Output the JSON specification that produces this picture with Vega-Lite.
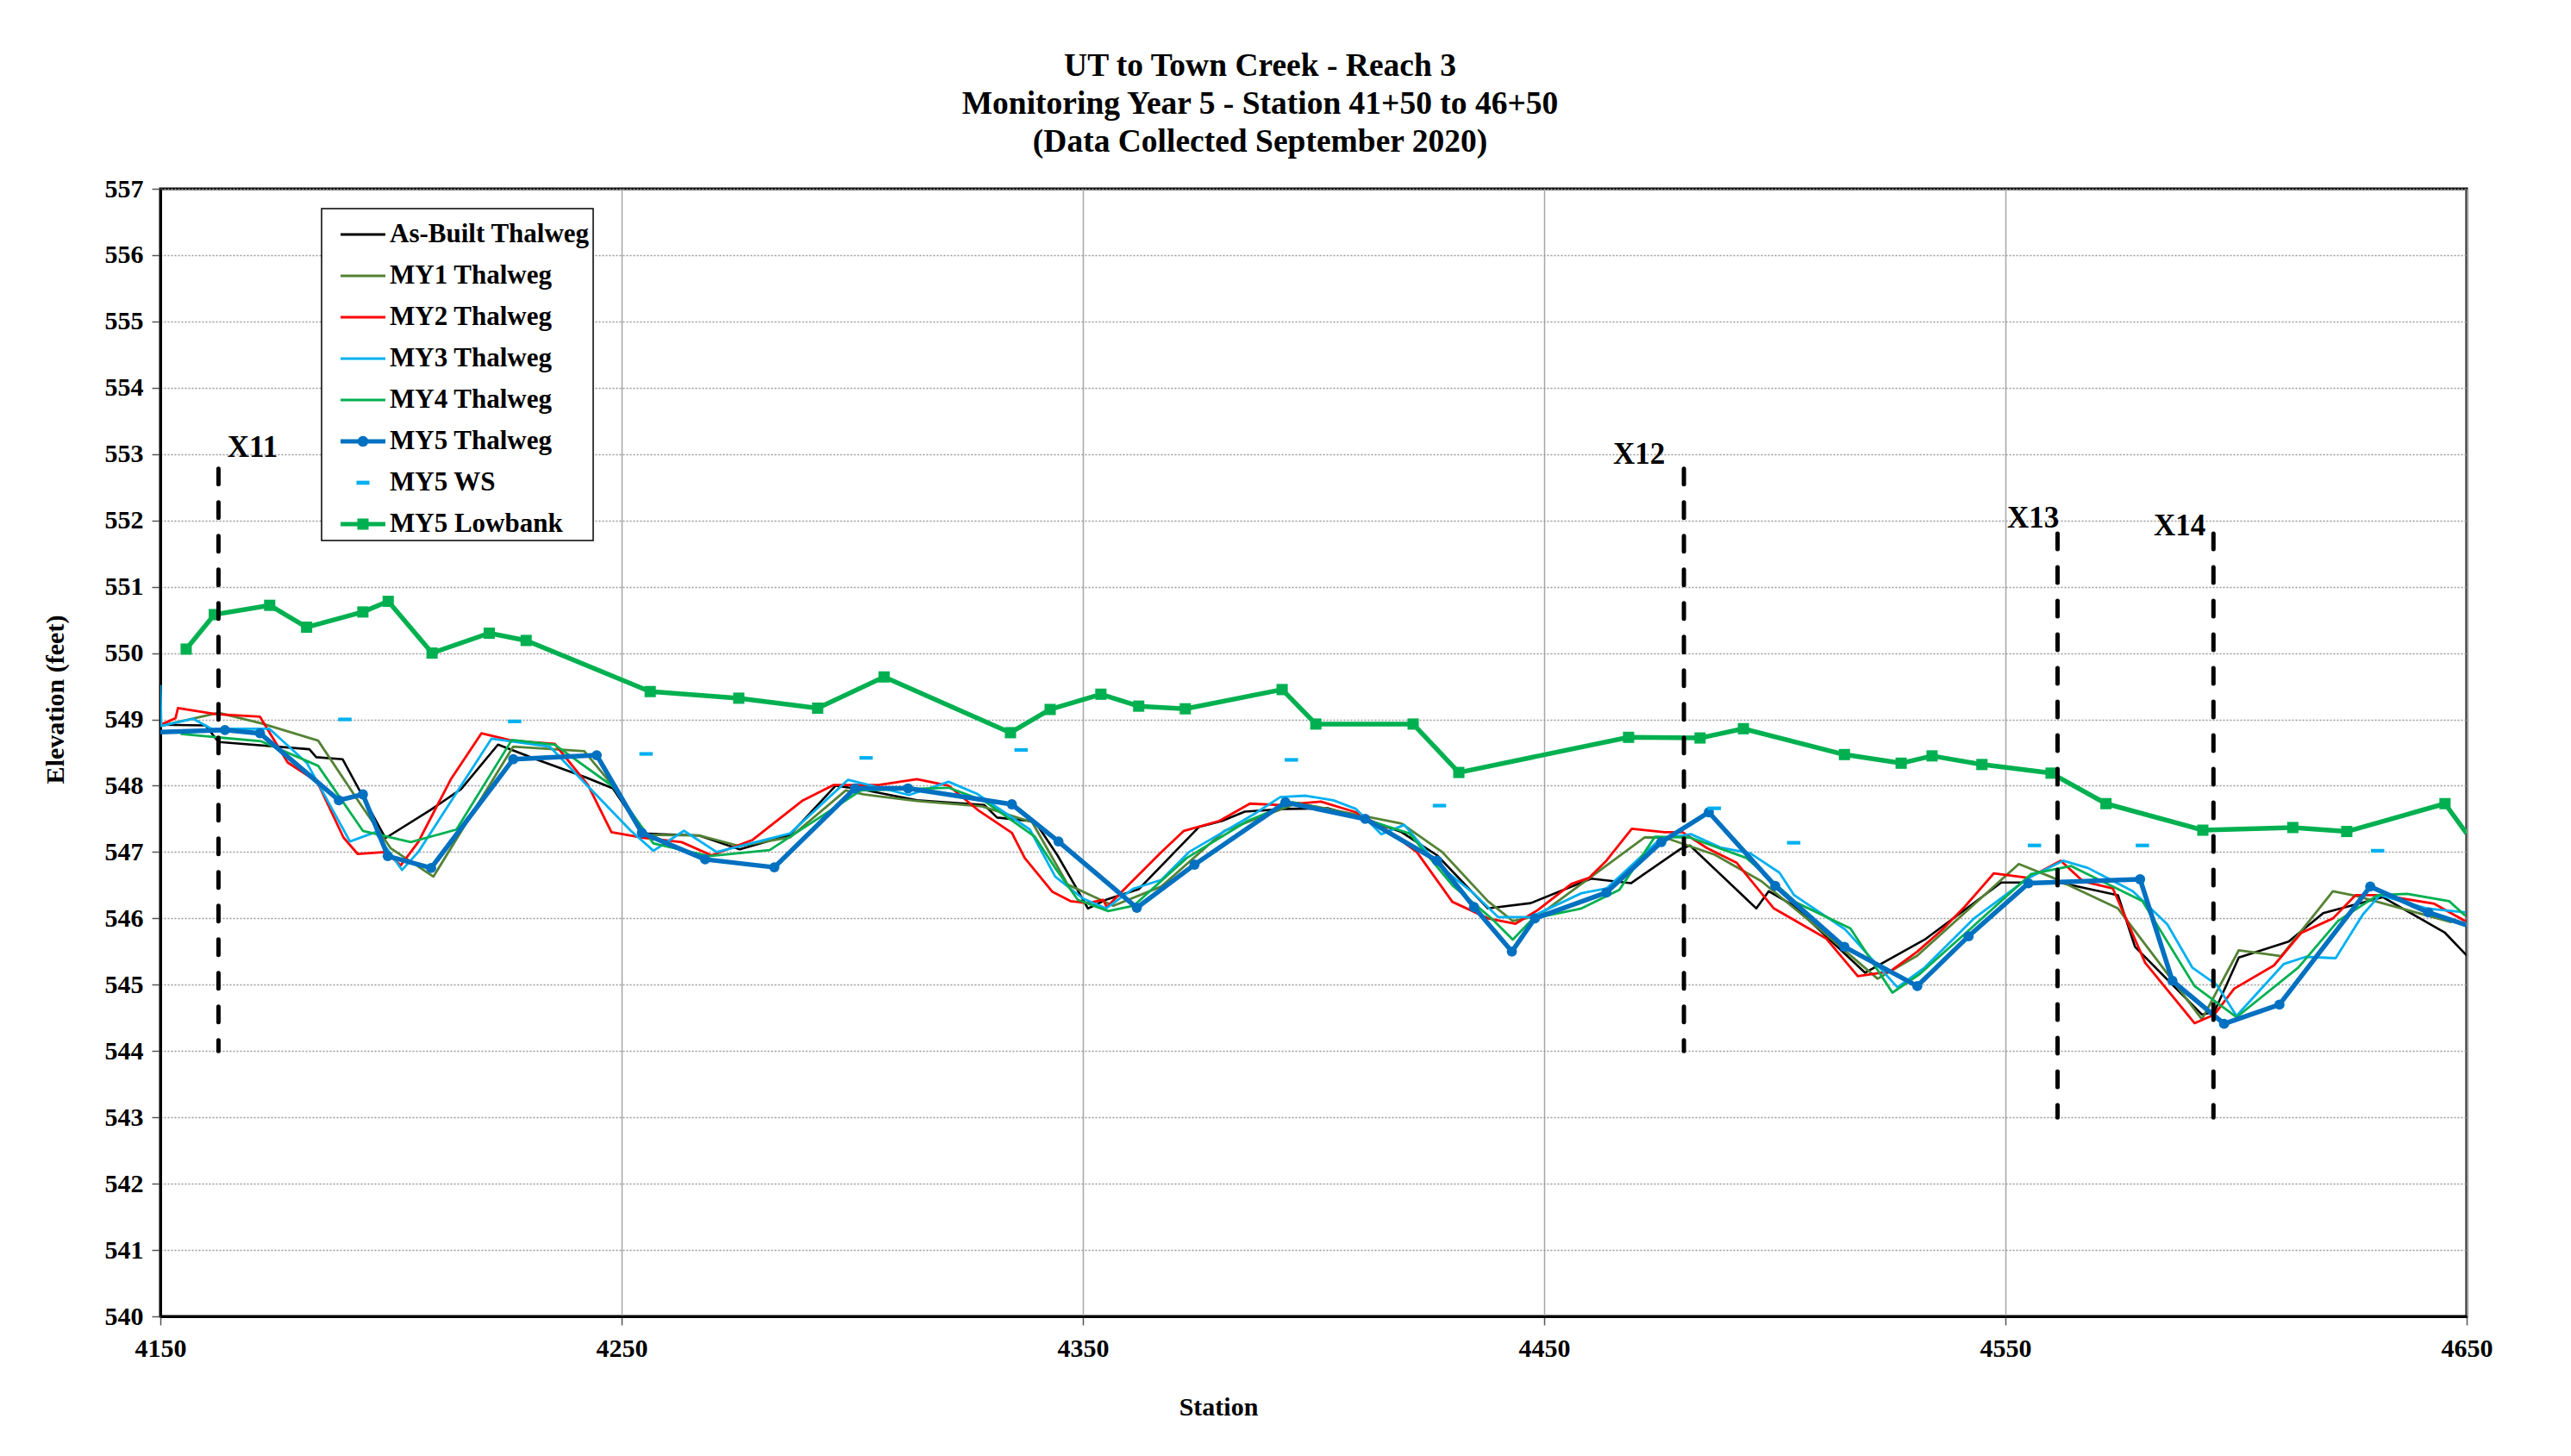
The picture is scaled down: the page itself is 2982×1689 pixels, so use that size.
{
  "$schema": "https://vega.github.io/schema/vega-lite/v6.json",
  "width": 2675,
  "height": 1308,
  "autosize": {"type": "none"},
  "padding": {"left": 186, "top": 219, "right": 121, "bottom": 162},
  "background": "white",
  "title": {
    "text": ["UT to Town Creek - Reach 3", "Monitoring Year 5 - Station 41+50 to 46+50", "(Data Collected September 2020)"],
    "font": "Liberation Serif", "fontSize": 37.5, "fontWeight": "bold", "lineHeight": 44,
    "anchor": "middle", "frame": "group", "dx": -62, "offset": -17, "baseline": "bottom", "color": "black"
  },
  "config": {
    "font": "Liberation Serif",
    "view": {"stroke": "black", "strokeWidth": 3},
    "axis": {
      "labelFont": "Liberation Serif", "labelFontSize": 30, "labelFontWeight": "bold", "labelColor": "black",
      "titleFont": "Liberation Serif", "titleFontSize": 30, "titleFontWeight": "bold", "titleColor": "black",
      "domainColor": "black", "domainWidth": 3, "tickColor": "#555555", "tickWidth": 1.5, "tickSize": 10,
      "labelFlush": false, "labelOverlap": false
    },
    "legend": {
      "orient": "none", "legendX": 187, "legendY": 23, "direction": "vertical",
      "strokeColor": "black", "strokeWidth": 1.5, "fillColor": "white", "padding": 4,
      "symbolOffset": 18, "labelOffset": 5, "labelFont": "Liberation Serif", "labelFontSize": 31,
      "labelFontWeight": "bold", "labelColor": "black", "rowPadding": 7, "symbolSize": 2704,
      "symbolStrokeWidth": 0, "symbolOpacity": 1, "labelLimit": 0
    }
  },
  "encoding": {
    "x": {
      "field": "station", "type": "quantitative",
      "scale": {"domain": [4150, 4650], "nice": false, "zero": false},
      "axis": {
        "title": "Station", "values": [4150, 4250, 4350, 4450, 4550, 4650], "format": "d",
        "grid": true, "gridColor": "#A6A6A6", "gridWidth": 1.5, "labelPadding": 12,
        "titleX": 1227, "titleY": 105, "titleBaseline": "middle", "titleAlign": "center"
      }
    },
    "y": {
      "field": "elev", "type": "quantitative",
      "scale": {"domain": [540, 557], "nice": false, "zero": false},
      "axis": {
        "title": "Elevation (feet)",
        "values": [540, 541, 542, 543, 544, 545, 546, 547, 548, 549, 550, 551, 552, 553, 554, 555, 556, 557],
        "format": "d", "grid": true, "gridColor": "#9A9A9A", "gridWidth": 1.3, "gridDash": [2, 2],
        "labelPadding": 10, "titleX": -122, "titleY": 592, "titleBaseline": "middle",
        "titleAlign": "center", "titleAngle": 270
      }
    }
  },
  "datasets": {
    "asbuilt": [
      {"station": 4150, "elev": 548.92}, {"station": 4159.8, "elev": 548.91}, {"station": 4162.6, "elev": 548.66},
      {"station": 4182.3, "elev": 548.55}, {"station": 4183.8, "elev": 548.43}, {"station": 4189.5, "elev": 548.4},
      {"station": 4198.8, "elev": 547.21}, {"station": 4208.7, "elev": 547.64}, {"station": 4215.2, "elev": 547.95},
      {"station": 4223.2, "elev": 548.62}, {"station": 4232.2, "elev": 548.38}, {"station": 4242.1, "elev": 548.13},
      {"station": 4248.1, "elev": 547.96}, {"station": 4254.7, "elev": 547.28}, {"station": 4266.8, "elev": 547.25},
      {"station": 4275.6, "elev": 547.04}, {"station": 4286.5, "elev": 547.26}, {"station": 4296.4, "elev": 548.0},
      {"station": 4302.4, "elev": 547.94}, {"station": 4314, "elev": 547.78}, {"station": 4328.6, "elev": 547.71},
      {"station": 4331.4, "elev": 547.52}, {"station": 4339.6, "elev": 547.46}, {"station": 4344.5, "elev": 546.95},
      {"station": 4348.4, "elev": 546.48}, {"station": 4351.1, "elev": 546.15}, {"station": 4355, "elev": 546.28},
      {"station": 4362.1, "elev": 546.44}, {"station": 4375.2, "elev": 547.38}, {"station": 4380.2, "elev": 547.47},
      {"station": 4385.1, "elev": 547.61}, {"station": 4393.9, "elev": 547.65}, {"station": 4403.2, "elev": 547.66},
      {"station": 4410.9, "elev": 547.51}, {"station": 4419.1, "elev": 547.3}, {"station": 4426.8, "elev": 546.95},
      {"station": 4437.8, "elev": 546.15}, {"station": 4447.1, "elev": 546.23}, {"station": 4460.2, "elev": 546.6},
      {"station": 4468.8, "elev": 546.53}, {"station": 4479.4, "elev": 547.04}, {"station": 4481.6, "elev": 547.1},
      {"station": 4496.0, "elev": 546.15}, {"station": 4498.7, "elev": 546.41}, {"station": 4504.1, "elev": 546.19},
      {"station": 4519.6, "elev": 545.18}, {"station": 4532.5, "elev": 545.68}, {"station": 4549.1, "elev": 546.54},
      {"station": 4561.7, "elev": 546.54}, {"station": 4574.4, "elev": 546.35}, {"station": 4578.1, "elev": 545.57},
      {"station": 4592.6, "elev": 544.55}, {"station": 4595.3, "elev": 544.59}, {"station": 4600.6, "elev": 545.41},
      {"station": 4611.4, "elev": 545.65}, {"station": 4618.9, "elev": 546.08}, {"station": 4631.8, "elev": 546.32},
      {"station": 4645.2, "elev": 545.79}, {"station": 4650, "elev": 545.44}
    ],
    "my1": [
      {"station": 4150, "elev": 548.9}, {"station": 4162.6, "elev": 549.1}, {"station": 4171.9, "elev": 548.94},
      {"station": 4184.2, "elev": 548.68}, {"station": 4193.3, "elev": 547.73}, {"station": 4199.9, "elev": 547.06},
      {"station": 4209.2, "elev": 546.63}, {"station": 4226.5, "elev": 548.59}, {"station": 4241.9, "elev": 548.52},
      {"station": 4248.7, "elev": 547.95}, {"station": 4255.3, "elev": 547.26}, {"station": 4266.8, "elev": 547.25},
      {"station": 4275.6, "elev": 547.09}, {"station": 4286.5, "elev": 547.22}, {"station": 4298.6, "elev": 547.93},
      {"station": 4302.4, "elev": 547.87}, {"station": 4314, "elev": 547.77}, {"station": 4328.1, "elev": 547.69},
      {"station": 4339.0, "elev": 547.45}, {"station": 4346.7, "elev": 546.51}, {"station": 4356.6, "elev": 546.19},
      {"station": 4367.0, "elev": 546.48}, {"station": 4380.7, "elev": 547.32}, {"station": 4396.6, "elev": 547.74},
      {"station": 4419.1, "elev": 547.43}, {"station": 4427.9, "elev": 547.0}, {"station": 4437.8, "elev": 546.26},
      {"station": 4443.2, "elev": 545.96}, {"station": 4448.7, "elev": 546.04}, {"station": 4471.8, "elev": 547.22},
      {"station": 4476.1, "elev": 547.22}, {"station": 4487, "elev": 546.96}, {"station": 4497.1, "elev": 546.56},
      {"station": 4511.1, "elev": 545.76}, {"station": 4522.3, "elev": 545.09}, {"station": 4530.9, "elev": 545.44},
      {"station": 4552.9, "elev": 546.82}, {"station": 4560.4, "elev": 546.61}, {"station": 4574.4, "elev": 546.15},
      {"station": 4592.6, "elev": 544.48}, {"station": 4600.6, "elev": 545.52}, {"station": 4609.8, "elev": 545.43},
      {"station": 4621.0, "elev": 546.41}, {"station": 4625.9, "elev": 546.34}, {"station": 4646.8, "elev": 545.94}
    ],
    "my2": [
      {"station": 4150, "elev": 548.92}, {"station": 4151.1, "elev": 548.95}, {"station": 4153.3, "elev": 549.02},
      {"station": 4153.8, "elev": 549.17}, {"station": 4162, "elev": 549.08}, {"station": 4171.6, "elev": 549.04},
      {"station": 4177.6, "elev": 548.35}, {"station": 4184, "elev": 548.06}, {"station": 4189.7, "elev": 547.22},
      {"station": 4192.8, "elev": 546.97}, {"station": 4198.8, "elev": 547.0}, {"station": 4202.1, "elev": 546.8},
      {"station": 4205.9, "elev": 547.15}, {"station": 4213.0, "elev": 548.1}, {"station": 4219.6, "elev": 548.79},
      {"station": 4226.2, "elev": 548.68}, {"station": 4235.5, "elev": 548.63}, {"station": 4242.7, "elev": 548.01},
      {"station": 4247.8, "elev": 547.3}, {"station": 4254.2, "elev": 547.22}, {"station": 4263.0, "elev": 547.15},
      {"station": 4269.5, "elev": 546.95}, {"station": 4278.3, "elev": 547.18}, {"station": 4289.3, "elev": 547.78},
      {"station": 4295.9, "elev": 548.01}, {"station": 4305.7, "elev": 548.01}, {"station": 4314, "elev": 548.1},
      {"station": 4320.9, "elev": 548.0}, {"station": 4327.5, "elev": 547.62}, {"station": 4334.6, "elev": 547.29},
      {"station": 4337.4, "elev": 546.91}, {"station": 4343.4, "elev": 546.4}, {"station": 4347.3, "elev": 546.26},
      {"station": 4351.1, "elev": 546.23}, {"station": 4354.4, "elev": 546.28}, {"station": 4355.2, "elev": 546.17},
      {"station": 4360.4, "elev": 546.54}, {"station": 4367.0, "elev": 547.0}, {"station": 4371.9, "elev": 547.32},
      {"station": 4379.6, "elev": 547.47}, {"station": 4386.2, "elev": 547.73}, {"station": 4392.8, "elev": 547.71},
      {"station": 4401.6, "elev": 547.76}, {"station": 4409.2, "elev": 547.6}, {"station": 4415.8, "elev": 547.34},
      {"station": 4422.4, "elev": 547.0}, {"station": 4430.1, "elev": 546.25}, {"station": 4437.8, "elev": 546.0},
      {"station": 4443.8, "elev": 545.92}, {"station": 4448.7, "elev": 546.13}, {"station": 4455.9, "elev": 546.52},
      {"station": 4459.7, "elev": 546.61}, {"station": 4463.5, "elev": 546.87}, {"station": 4469.0, "elev": 547.35},
      {"station": 4476.1, "elev": 547.3}, {"station": 4480.0, "elev": 547.3}, {"station": 4485.3, "elev": 547.06},
      {"station": 4491.7, "elev": 546.84}, {"station": 4499.8, "elev": 546.15}, {"station": 4511.1, "elev": 545.7},
      {"station": 4518.0, "elev": 545.13}, {"station": 4525.0, "elev": 545.2}, {"station": 4530.9, "elev": 545.5},
      {"station": 4536.3, "elev": 545.83}, {"station": 4541.1, "elev": 546.17}, {"station": 4547.5, "elev": 546.68},
      {"station": 4555.0, "elev": 546.61}, {"station": 4562.0, "elev": 546.87}, {"station": 4566.8, "elev": 546.56},
      {"station": 4573.3, "elev": 546.45}, {"station": 4580.3, "elev": 545.33}, {"station": 4591.0, "elev": 544.42},
      {"station": 4595.3, "elev": 544.55}, {"station": 4599.6, "elev": 544.94}, {"station": 4608.2, "elev": 545.29},
      {"station": 4614.1, "elev": 545.78}, {"station": 4621.0, "elev": 546.0}, {"station": 4625.9, "elev": 546.35},
      {"station": 4631.8, "elev": 546.35}, {"station": 4643.0, "elev": 546.22}, {"station": 4649.7, "elev": 545.96}
    ],
    "my3": [
      {"station": 4150, "elev": 549.52}, {"station": 4150.2, "elev": 548.9}, {"station": 4157.1, "elev": 549.01},
      {"station": 4161, "elev": 548.86}, {"station": 4173.6, "elev": 548.86}, {"station": 4181.8, "elev": 548.34},
      {"station": 4191.1, "elev": 547.16}, {"station": 4196.6, "elev": 547.3}, {"station": 4202.4, "elev": 546.73},
      {"station": 4205.9, "elev": 547.0}, {"station": 4221.8, "elev": 548.71}, {"station": 4234.4, "elev": 548.59},
      {"station": 4252, "elev": 547.32}, {"station": 4256.9, "elev": 547.02}, {"station": 4263.5, "elev": 547.32},
      {"station": 4270.6, "elev": 547.0}, {"station": 4286.5, "elev": 547.28}, {"station": 4299.1, "elev": 548.09},
      {"station": 4312.3, "elev": 547.86}, {"station": 4320.9, "elev": 548.06}, {"station": 4327, "elev": 547.88},
      {"station": 4338.5, "elev": 547.34}, {"station": 4344, "elev": 546.63}, {"station": 4350, "elev": 546.3},
      {"station": 4355, "elev": 546.15}, {"station": 4361, "elev": 546.45}, {"station": 4367, "elev": 546.58},
      {"station": 4373, "elev": 547.0}, {"station": 4387.3, "elev": 547.58}, {"station": 4392.8, "elev": 547.83},
      {"station": 4398.3, "elev": 547.85}, {"station": 4404.3, "elev": 547.78}, {"station": 4409.2, "elev": 547.65},
      {"station": 4414.7, "elev": 547.27}, {"station": 4419.7, "elev": 547.41}, {"station": 4426.8, "elev": 546.82},
      {"station": 4434.5, "elev": 546.39}, {"station": 4440, "elev": 546.02}, {"station": 4447.1, "elev": 546.02},
      {"station": 4458.1, "elev": 546.38}, {"station": 4463.5, "elev": 546.45}, {"station": 4475.2, "elev": 547.2},
      {"station": 4481.8, "elev": 547.27}, {"station": 4488.2, "elev": 547.07}, {"station": 4494.7, "elev": 546.98},
      {"station": 4501, "elev": 546.69}, {"station": 4504.2, "elev": 546.35}, {"station": 4515.3, "elev": 545.83},
      {"station": 4526.6, "elev": 544.96}, {"station": 4532.5, "elev": 545.26}, {"station": 4543.2, "elev": 546.0},
      {"station": 4555, "elev": 546.61}, {"station": 4562.5, "elev": 546.87}, {"station": 4567.9, "elev": 546.76},
      {"station": 4577.6, "elev": 546.41}, {"station": 4585.1, "elev": 545.91}, {"station": 4590.5, "elev": 545.26},
      {"station": 4595.8, "elev": 545.0}, {"station": 4600.1, "elev": 544.53}, {"station": 4610.3, "elev": 545.31},
      {"station": 4615.1, "elev": 545.42}, {"station": 4621.6, "elev": 545.4}, {"station": 4627.5, "elev": 546.06},
      {"station": 4631.2, "elev": 546.35}, {"station": 4641.4, "elev": 546.15}, {"station": 4649.7, "elev": 546.09}
    ],
    "my4": [
      {"station": 4154.4, "elev": 548.78}, {"station": 4171.9, "elev": 548.67}, {"station": 4184.2, "elev": 548.3},
      {"station": 4193.9, "elev": 547.32}, {"station": 4204.3, "elev": 547.15}, {"station": 4214.2, "elev": 547.34},
      {"station": 4226.2, "elev": 548.69}, {"station": 4235.5, "elev": 548.62}, {"station": 4248.1, "elev": 547.99},
      {"station": 4256.9, "elev": 547.13}, {"station": 4269, "elev": 546.94}, {"station": 4282.1, "elev": 547.03},
      {"station": 4301.9, "elev": 547.93}, {"station": 4320.9, "elev": 547.97}, {"station": 4328.6, "elev": 547.77},
      {"station": 4339.6, "elev": 547.23}, {"station": 4344, "elev": 546.76}, {"station": 4348.9, "elev": 546.28},
      {"station": 4355.5, "elev": 546.11}, {"station": 4361, "elev": 546.19}, {"station": 4372.5, "elev": 546.91},
      {"station": 4385.7, "elev": 547.47}, {"station": 4395.5, "elev": 547.75}, {"station": 4411.4, "elev": 547.49},
      {"station": 4420.8, "elev": 547.28}, {"station": 4430.1, "elev": 546.5}, {"station": 4438.9, "elev": 545.98},
      {"station": 4443.2, "elev": 545.68}, {"station": 4447.6, "elev": 546.0}, {"station": 4458.1, "elev": 546.15},
      {"station": 4466.3, "elev": 546.43}, {"station": 4474, "elev": 547.23}, {"station": 4481.6, "elev": 547.22},
      {"station": 4493.9, "elev": 546.91}, {"station": 4504.6, "elev": 546.24}, {"station": 4516.4, "elev": 545.85},
      {"station": 4525.5, "elev": 544.88}, {"station": 4531.4, "elev": 545.16}, {"station": 4541.1, "elev": 545.76},
      {"station": 4555.6, "elev": 546.67}, {"station": 4564.2, "elev": 546.79}, {"station": 4579.7, "elev": 546.26},
      {"station": 4591, "elev": 544.98}, {"station": 4600.1, "elev": 544.51}, {"station": 4613.5, "elev": 545.26},
      {"station": 4622.1, "elev": 545.96}, {"station": 4630.7, "elev": 546.35}, {"station": 4637.1, "elev": 546.37},
      {"station": 4646.2, "elev": 546.26}, {"station": 4649.7, "elev": 546.04}
    ],
    "my5": [
      {"station": 4150, "elev": 548.81}, {"station": 4164.0, "elev": 548.84}, {"station": 4171.6, "elev": 548.79},
      {"station": 4188.7, "elev": 547.78}, {"station": 4193.9, "elev": 547.87}, {"station": 4199.3, "elev": 546.94},
      {"station": 4208.7, "elev": 546.76}, {"station": 4226.5, "elev": 548.4}, {"station": 4244.6, "elev": 548.46},
      {"station": 4254.4, "elev": 547.29}, {"station": 4268.1, "elev": 546.89}, {"station": 4283.1, "elev": 546.77},
      {"station": 4300.6, "elev": 547.96}, {"station": 4312.1, "elev": 547.96}, {"station": 4334.6, "elev": 547.72},
      {"station": 4344.7, "elev": 547.16}, {"station": 4361.7, "elev": 546.16}, {"station": 4374.2, "elev": 546.81},
      {"station": 4393.9, "elev": 547.75}, {"station": 4411.2, "elev": 547.5}, {"station": 4426.8, "elev": 546.87},
      {"station": 4434.8, "elev": 546.17}, {"station": 4443.0, "elev": 545.5}, {"station": 4448.0, "elev": 546.0},
      {"station": 4463.5, "elev": 546.39}, {"station": 4475.4, "elev": 547.15}, {"station": 4485.7, "elev": 547.6},
      {"station": 4500.1, "elev": 546.49}, {"station": 4515.1, "elev": 545.57}, {"station": 4530.9, "elev": 544.98},
      {"station": 4542.0, "elev": 545.73}, {"station": 4555.0, "elev": 546.53}, {"station": 4579.2, "elev": 546.59},
      {"station": 4586.2, "elev": 545.06}, {"station": 4597.4, "elev": 544.41}, {"station": 4609.4, "elev": 544.7},
      {"station": 4629.1, "elev": 546.48}, {"station": 4641.7, "elev": 546.09}, {"station": 4650, "elev": 545.9}
    ],
    "ws": [
      {"station": 4190.0, "elev": 549.0}, {"station": 4226.8, "elev": 548.97}, {"station": 4255.3, "elev": 548.48},
      {"station": 4303.0, "elev": 548.42}, {"station": 4336.6, "elev": 548.54}, {"station": 4395.2, "elev": 548.39},
      {"station": 4427.3, "elev": 547.7}, {"station": 4486.9, "elev": 547.66}, {"station": 4504.1, "elev": 547.14},
      {"station": 4556.3, "elev": 547.1}, {"station": 4579.7, "elev": 547.1}, {"station": 4630.7, "elev": 547.02}
    ],
    "lowbank": [
      {"station": 4155.6, "elev": 550.06}, {"station": 4161.7, "elev": 550.58}, {"station": 4173.7, "elev": 550.72},
      {"station": 4181.7, "elev": 550.39}, {"station": 4193.9, "elev": 550.62}, {"station": 4199.4, "elev": 550.78},
      {"station": 4208.9, "elev": 550.0}, {"station": 4221.3, "elev": 550.3}, {"station": 4229.3, "elev": 550.19},
      {"station": 4256.2, "elev": 549.42}, {"station": 4275.4, "elev": 549.32}, {"station": 4292.5, "elev": 549.17},
      {"station": 4306.9, "elev": 549.64}, {"station": 4334.3, "elev": 548.8}, {"station": 4342.9, "elev": 549.15},
      {"station": 4353.9, "elev": 549.38}, {"station": 4362.1, "elev": 549.2}, {"station": 4372.2, "elev": 549.16},
      {"station": 4393.2, "elev": 549.45}, {"station": 4400.5, "elev": 548.93}, {"station": 4421.6, "elev": 548.93},
      {"station": 4431.5, "elev": 548.2}, {"station": 4468.3, "elev": 548.73}, {"station": 4483.8, "elev": 548.72},
      {"station": 4493.2, "elev": 548.86}, {"station": 4515.1, "elev": 548.47}, {"station": 4527.4, "elev": 548.34},
      {"station": 4534.1, "elev": 548.45}, {"station": 4544.9, "elev": 548.32}, {"station": 4559.9, "elev": 548.19},
      {"station": 4571.8, "elev": 547.73}, {"station": 4592.8, "elev": 547.33}, {"station": 4612.3, "elev": 547.37},
      {"station": 4624.0, "elev": 547.31}, {"station": 4645.3, "elev": 547.73}, {"station": 4650, "elev": 547.28}
    ],
    "xs": [
      {"name": "X11", "station": 4162.6, "elev": 552.78, "bottom": 544.0},
      {"name": "X12", "station": 4480.3, "elev": 552.78, "bottom": 544.0},
      {"name": "X13", "station": 4561.3, "elev": 551.8, "bottom": 543.0},
      {"name": "X14", "station": 4595.1, "elev": 551.8, "bottom": 543.0}
    ],
    "xslabels": [
      {"name": "X11", "station": 4170, "elev": 553.1},
      {"name": "X12", "station": 4470.6, "elev": 553.0},
      {"name": "X13", "station": 4556, "elev": 552.03},
      {"name": "X14", "station": 4587.8, "elev": 551.92}
    ]
  },
  "layer": [
    {"data": {"name": "asbuilt"}, "mark": {"type": "line", "color": "#000000", "strokeWidth": 2.6, "strokeJoin": "round", "clip": true}},
    {"data": {"name": "my1"}, "mark": {"type": "line", "color": "#548235", "strokeWidth": 2.8, "strokeJoin": "round", "clip": true}},
    {"data": {"name": "my2"}, "mark": {"type": "line", "color": "#FF0000", "strokeWidth": 2.8, "strokeJoin": "round", "clip": true}},
    {"data": {"name": "my3"}, "mark": {"type": "line", "color": "#00B0F0", "strokeWidth": 2.8, "strokeJoin": "round", "clip": true}},
    {"data": {"name": "my4"}, "mark": {"type": "line", "color": "#00B050", "strokeWidth": 2.8, "strokeJoin": "round", "clip": true}},
    {"data": {"name": "my5"}, "mark": {"type": "line", "color": "#0070C0", "strokeWidth": 5.5, "strokeJoin": "round", "clip": true}},
    {
      "data": {"name": "my5"},
      "transform": [{"filter": "datum.station > 4151 && datum.station < 4649"}],
      "mark": {"type": "point", "shape": "circle", "filled": true, "color": "#0070C0", "size": 140, "opacity": 1, "clip": true}
    },
    {
      "data": {"name": "ws"},
      "mark": {"type": "point", "shape": "M-1,-0.27H1V0.27H-1Z", "filled": true, "color": "#00B0F0", "size": 240, "opacity": 1, "clip": true}
    },
    {"data": {"name": "lowbank"}, "mark": {"type": "line", "color": "#00B050", "strokeWidth": 5.5, "strokeJoin": "round", "clip": true}},
    {
      "data": {"name": "lowbank"},
      "transform": [{"filter": "datum.station < 4649"}],
      "mark": {"type": "point", "shape": "square", "filled": true, "color": "#00B050", "size": 170, "opacity": 1, "clip": true}
    },
    {
      "data": {"name": "xs"},
      "mark": {"type": "rule", "color": "black", "strokeWidth": 5, "strokeDash": [18, 21], "strokeCap": "round"},
      "encoding": {"y2": {"field": "bottom"}}
    },
    {
      "data": {"name": "xslabels"},
      "mark": {"type": "text", "font": "Liberation Serif", "fontSize": 35, "fontWeight": "bold", "color": "black", "align": "center", "baseline": "middle"},
      "encoding": {"text": {"field": "name"}}
    },
    {
      "data": {"values": []},
      "mark": {"type": "point", "filled": true, "opacity": 1, "size": 2704},
      "encoding": {
        "color": {
          "field": "series", "type": "nominal",
          "scale": {
            "domain": ["As-Built Thalweg", "MY1 Thalweg", "MY2 Thalweg", "MY3 Thalweg", "MY4 Thalweg", "MY5 Thalweg", "MY5 WS", "MY5 Lowbank"],
            "range": ["#000000", "#548235", "#FF0000", "#00B0F0", "#00B050", "#0070C0", "#00B0F0", "#00B050"]
          },
          "legend": {"title": null}
        },
        "shape": {
          "field": "series", "type": "nominal",
          "scale": {
            "domain": ["As-Built Thalweg", "MY1 Thalweg", "MY2 Thalweg", "MY3 Thalweg", "MY4 Thalweg", "MY5 Thalweg", "MY5 WS", "MY5 Lowbank"],
            "range": [
              "M-1,-0.055H1V0.055H-1Z",
              "M-1,-0.06H1V0.06H-1Z",
              "M-1,-0.06H1V0.06H-1Z",
              "M-1,-0.06H1V0.06H-1Z",
              "M-1,-0.06H1V0.06H-1Z",
              "M-1,-0.1H1V0.1H-1Z M-0.24,0A0.24,0.24 0 1,1 0.24,0A0.24,0.24 0 1,1 -0.24,0Z",
              "M-0.29,-0.09H0.29V0.09H-0.29Z",
              "M-1,-0.1H1V0.1H-1Z M-0.25,-0.25H0.25V0.25H-0.25Z"
            ]
          },
          "legend": {"title": null}
        }
      }
    }
  ]
}
